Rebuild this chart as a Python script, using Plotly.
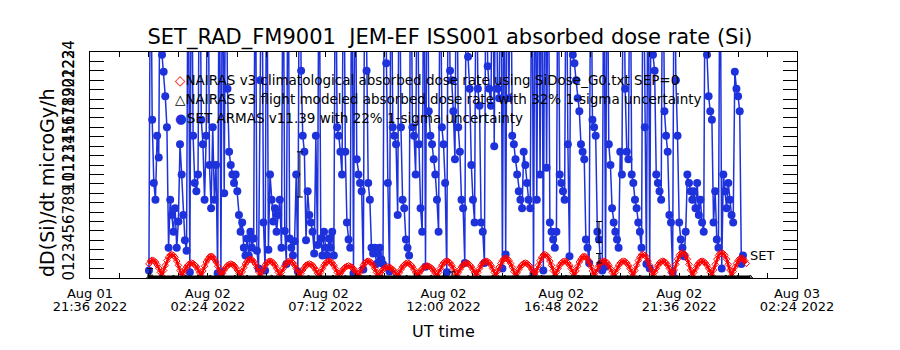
import plotly.graph_objects as go
import pandas as pd

# ---------------- data ----------------
x_range = ["2022-08-01 21:36", "2022-08-03 02:24"]
tick_start = "2022-08-01 21:36"

series_start = "2022-08-02 00:00"
step_minutes = 4

# SET ARMAS v11.39 absorbed dose rate (microGy/h); values > 24 are off scale
set_dose = [
    0.8, 40, 16.8, 10.1, 8.3, 15.1, 12.8, 40, 23.7, 21.9,
    19.3, 16.0, 3.2, 8.3, 6.7, 4.9, 7.4, 3.2, 6.0, 14.2,
    11.0, 6.7, 4.0, 2.9, 40, 0.6, 40, 15.1, 10.1, 9.2,
    11.0, 40, 16.8, 14.2, 8.3, 15.1, 40, 12.0, 7.4, 16.0,
    8.3, 12.0, 0.5, 40, 0.6, 40, 9.0, 40, 20.1, 13.4,
    12.0, 11.0, 10.1, 11.0, 9.2, 6.7, 4.9, 5.9, 3.2, 2.4,
    4.2, 2.4, 4.9, 3.2, 4.2, 40, 2.9, 1.0, 21.0, 40,
    5.9, 0.8, 40, 3.0, 11.0, 8.3, 6.0, 7.4, 4.9, 6.7,
    8.3, 3.2, 40, 5.0, 1.5, 40, 4.2, 3.2, 2.4, 3.9,
    11.0, 0.7, 40, 22.0, 15.1, 13.4, 4.0, 9.2, 6.7, 5.9,
    4.9, 2.6, 15.1, 3.5, 40, 4.2, 2.4, 4.9, 3.2, 2.4,
    4.2, 3.2, 4.9, 2.4, 40, 16.0, 15.1, 13.4, 11.0, 40,
    13.4, 5.9, 4.1, 3.2, 40, 0.5, 40, 12.6, 11.0, 10.1,
    9.2, 0.9, 40, 22.0, 10.1, 8.3, 3.2, 2.6, 3.2, 1.5,
    2.6, 3.2, 2.0, 1.5, 40, 22.8, 10.1, 0.7, 40, 16.0,
    15.1, 14.2, 6.7, 40, 16.0, 8.3, 7.4, 4.1, 3.2, 2.4,
    40, 16.0, 15.1, 11.0, 40, 14.2, 7.4, 4.9, 40, 1.2,
    40, 17.7, 15.1, 14.2, 12.6, 11.0, 8.3, 4.9, 40, 16.0,
    14.2, 10.1, 0.6, 40, 22.0, 21.0, 17.7, 12.6, 40, 16.0,
    13.4, 8.3, 7.4, 1.6, 40, 23.5, 20.1, 12.0, 8.3, 5.9,
    40, 20.1, 18.3, 5.9, 4.9, 1.6, 40, 22.5, 20.1, 18.3,
    40, 14.0, 40, 20.1, 19.1, 40, 1.0, 40, 2.5, 40,
    19.1, 40, 15.1, 14.2, 12.6, 11.0, 9.2, 8.3, 7.4, 13.4,
    12.0, 10.1, 8.3, 7.4, 40, 0.5, 40, 8.3, 40, 11.0,
    40, 0.8, 40, 11.7, 40, 5.9, 4.9, 4.1, 3.2, 4.9,
    40, 11.0, 10.1, 9.2, 8.3, 40, 14.2, 2.3, 40, 23.7,
    22.8, 21.0, 19.1, 17.7, 14.2, 13.4, 12.6, 4.1, 3.2, 1.6,
    40, 16.8, 16.0, 15.1, 4.9, 4.1, 1.5, 0.8, 40, 1.2,
    40, 14.2, 12.0, 7.4, 5.9, 4.9, 4.1, 3.2, 13.4, 11.0,
    40, 20.1, 13.4, 12.6, 40, 11.0, 10.1, 8.3, 7.4, 5.9,
    4.9, 3.2, 40, 16.0, 1.5, 40, 1.0, 40, 23.7, 22.0,
    11.0, 10.1, 9.2, 8.3, 40, 17.7, 15.1, 13.4, 6.7, 5.9,
    0.6, 40, 21.0, 15.1, 5.9, 4.1, 3.2, 2.3, 4.9, 11.0,
    10.1, 9.2, 8.3, 9.2, 7.4, 10.1, 6.7, 8.3, 5.9, 4.9,
    40, 23.7, 19.3, 17.7, 16.8, 5.9, 9.2, 4.1, 3.2, 40,
    1.0, 11.0, 9.2, 7.4, 10.1, 8.3, 6.7, 5.9, 21.9, 20.1,
    19.3, 17.7, 1.5, 2.4,
]

# NAIRAS v3 climatological absorbed dose rate (same 4-minute grid)
nairas_clim = [
    1.5, 1.8, 1.9, 1.85, 1.7, 1.4, 1.05, 0.6,
    0.2, 0.8, 1.35, 1.85, 2.2, 2.45, 2.5, 2.4, 2.2, 1.8, 1.35, 0.8,
    0.25, 0.55, 0.9, 1.2, 1.4, 1.55, 1.6, 1.55, 1.4, 1.2, 0.9, 0.55,
    0.2, 0.75, 1.25, 1.7, 2.0, 2.25, 2.3, 2.25, 2.0, 1.7, 1.25, 0.75,
    0.25, 0.5, 0.85, 1.1, 1.35, 1.45, 1.5, 1.45, 1.35, 1.1, 0.85, 0.5,
    0.2, 0.65, 1.1, 1.5, 1.75, 1.95, 2.0, 1.95, 1.75, 1.5, 1.1, 0.65,
    0.2, 0.6, 1.0, 1.35, 1.6, 1.75, 1.8, 1.75, 1.6, 1.35, 1.0, 0.6,
    0.25, 0.6, 1.0, 1.35, 1.6, 1.75, 1.8, 1.75, 1.6, 1.35, 1.0, 0.6,
    0.2, 0.5, 0.85, 1.1, 1.35, 1.45, 1.5, 1.45, 1.35, 1.1, 0.85, 0.5,
    0.2, 0.6, 1.0, 1.35, 1.6, 1.75, 1.8, 1.75, 1.6, 1.35, 1.0, 0.6,
    0.25, 0.5, 0.75, 1.0, 1.15, 1.25, 1.3, 1.25, 1.15, 1.0, 0.75, 0.5,
    0.2, 0.6, 1.0, 1.35, 1.6, 1.75, 1.8, 1.75, 1.6, 1.35, 1.0, 0.6,
    0.2, 0.45, 0.7, 0.9, 1.05, 1.15, 1.2, 1.15, 1.05, 0.9, 0.7, 0.45,
    0.2, 0.55, 0.9, 1.2, 1.4, 1.55, 1.6, 1.55, 1.4, 1.2, 0.9, 0.55,
    0.25, 0.5, 0.75, 1.0, 1.15, 1.25, 1.3, 1.25, 1.15, 1.0, 0.75, 0.5,
    0.2, 0.6, 1.0, 1.35, 1.6, 1.75, 1.8, 1.75, 1.6, 1.35, 1.0, 0.6,
    0.2, 0.55, 0.9, 1.2, 1.4, 1.55, 1.6, 1.55, 1.4, 1.2, 0.9, 0.55,
    0.25, 0.6, 1.0, 1.35, 1.6, 1.75, 1.8, 1.75, 1.6, 1.35, 1.0, 0.6,
    0.2, 0.7, 1.15, 1.55, 1.85, 2.05, 2.1, 2.05, 1.85, 1.55, 1.15, 0.7,
    0.2, 0.55, 0.9, 1.2, 1.4, 1.55, 1.6, 1.55, 1.4, 1.2, 0.9, 0.55,
    0.25, 0.8, 1.35, 1.85, 2.2, 2.45, 2.5, 2.4, 2.2, 1.8, 1.35, 0.8,
    0.2, 0.6, 1.0, 1.35, 1.6, 1.75, 1.8, 1.75, 1.6, 1.35, 1.0, 0.6,
    0.2, 0.75, 1.25, 1.7, 2.0, 2.25, 2.3, 2.25, 2.0, 1.7, 1.25, 0.75,
    0.25, 0.6, 1.0, 1.35, 1.6, 1.75, 1.8, 1.75, 1.6, 1.35, 1.0, 0.6,
    0.2, 0.6, 1.0, 1.35, 1.6, 1.75, 1.8, 1.75, 1.6, 1.35, 1.0, 0.6,
    0.2, 0.8, 1.35, 1.85, 2.2, 2.45, 2.5, 2.4, 2.2, 1.8, 1.35, 0.8,
    0.25, 0.6, 1.0, 1.35, 1.6, 1.75, 1.8, 1.75, 1.6, 1.35, 1.0, 0.6,
    0.2, 0.85, 1.45, 2.0, 2.4, 2.6, 2.7, 2.6, 2.4, 2.0, 1.45, 0.85,
    0.2, 0.6, 1.0, 1.35, 1.6, 1.75, 1.8, 1.75, 1.6, 1.35, 1.0, 0.6,
    0.25, 0.85, 1.45, 2.0, 2.4, 2.6, 2.7, 2.6, 2.4, 2.0, 1.45, 0.85,
    0.2, 0.7, 1.15, 1.55, 1.85, 2.05, 2.1, 2.05, 1.85, 1.55,
]

# NAIRAS v3 flight modeled absorbed dose rate (30-minute grid)
flight_step_minutes = 30
nairas_flight = [
    0.10, 0.09, 0.11, 0.10, 0.12, 0.10, 0.09, 0.10, 0.11, 0.10,
    0.12, 0.11, 0.10, 0.09, 0.10, 0.11, 0.10, 0.12, 0.10, 0.09,
    0.10, 0.11, 0.10, 0.12, 0.11, 0.10, 0.09, 0.10, 0.11, 0.10,
    0.12, 0.10, 0.09, 0.10, 0.11, 0.10, 0.12, 0.11, 0.10, 0.09,
    0.10, 0.11, 0.10, 0.12, 0.10, 0.09, 0.10, 0.11, 0.10, 0.10,
]

# uncertainty bars drawn in the reference
err_times = ["2022-08-02 00:03", "2022-08-02 06:09", "2022-08-02 12:21",
             "2022-08-02 18:20", "2022-08-02 18:20"]
err_values = [0.65, 11.0, 0.35, 4.9, 2.1]
err_sizes = [0.35, 2.4, 0.3, 1.1, 0.5]

title_text = "SET_RAD_FM9001  JEM-EF ISS001 absorbed dose rate (Si)"
legend_labels = [
    "NAIRAS v3 climatological absorbed dose rate using SiDose_G0.txt SEP=0",
    "NAIRAS v3 flight modeled absorbed dose rate with 32% 1-sigma uncertainty",
    "SET ARMAS v11.39 with 22% 1-sigma uncertainty",
]

# ---------------- build ----------------
t0 = pd.Timestamp(series_start)
set_times = [t0 + pd.Timedelta(minutes=step_minutes * i) for i in range(len(set_dose))]
clim_times = [t0 + pd.Timedelta(minutes=step_minutes * i) for i in range(len(nairas_clim))]
flight_times = [t0 + pd.Timedelta(minutes=flight_step_minutes * i) for i in range(len(nairas_flight))]

FONT = "DejaVu Sans"
BLUE = "#1e32dc"
RED = "#ff0000"

fig = go.Figure()
fig.add_trace(go.Scatter(
    x=set_times, y=set_dose, mode="lines+markers",
    line=dict(color=BLUE, width=1.5),
    marker=dict(color=BLUE, size=8, symbol="circle"),
    showlegend=False, hoverinfo="skip"))
fig.add_trace(go.Scatter(
    x=clim_times, y=nairas_clim, mode="lines+markers",
    line=dict(color=RED, width=2.5),
    marker=dict(color=RED, size=5, symbol="diamond-open", line=dict(width=1, color=RED)),
    showlegend=False, hoverinfo="skip"))
fig.add_trace(go.Scatter(
    x=flight_times, y=nairas_flight, mode="lines+markers",
    line=dict(color="black", width=3),
    marker=dict(color="black", size=4, symbol="triangle-up-open"),
    showlegend=False, hoverinfo="skip"))
fig.add_trace(go.Scatter(
    x=err_times, y=err_values, mode="markers",
    marker=dict(color="black", size=1),
    error_y=dict(type="data", array=err_sizes, visible=True,
                 color="black", thickness=1, width=3),
    showlegend=False, hoverinfo="skip"))
# invisible carrier for second tick-label row
fig.add_trace(go.Scatter(
    x=x_range, y=[None, None], xaxis="x2", mode="markers",
    showlegend=False, hoverinfo="skip"))

dtick_major = 4.8 * 3600 * 1000
dtick_minor = 1.2 * 3600 * 1000

fig.update_layout(
    width=900, height=350,
    margin=dict(l=90, r=103, t=52, b=72),
    paper_bgcolor="white", plot_bgcolor="white",
    font=dict(family=FONT, color="black"),
    title=dict(text=title_text, x=0.5, xanchor="center", y=0.894, yanchor="middle",
               font=dict(size=21, family=FONT, color="black")),
    xaxis=dict(
        type="date", range=x_range,
        tickmode="linear", tick0=tick_start, dtick=dtick_major,
        tickformat="%b %d", ticks="inside", ticklen=5, tickcolor="black",
        minor=dict(tickmode="linear", tick0=tick_start, dtick=dtick_minor,
                   ticks="inside", ticklen=5, tickcolor="black"),
        showline=True, linecolor="black", linewidth=1, mirror="ticks",
        showgrid=False, zeroline=False,
        tickfont=dict(size=13, family=FONT, color="black"),
        ticklabelstandoff=3,
    ),
    xaxis2=dict(
        type="date", range=x_range, overlaying="x", side="bottom", anchor="y",
        tickmode="linear", tick0=tick_start, dtick=dtick_major,
        tickformat="%H:%M %Y", ticks="", showline=False, showgrid=False, zeroline=False,
        tickfont=dict(size=13, family=FONT, color="black"),
        ticklabelstandoff=19,
    ),
    yaxis=dict(
        range=[0, 24], tickmode="linear", tick0=0, dtick=1,
        ticks="inside", ticklen=14, tickcolor="black",
        showline=True, linecolor="black", linewidth=1, mirror="ticks",
        showgrid=False, zeroline=False, tickangle=-90,
        tickfont=dict(size=15, family=FONT, color="black"),
        ticklabelstandoff=9,
    ),
    showlegend=False,
)

annotations = []
legend_colors = [RED, "black", BLUE]
legend_glyphs = ["\u25c7", "\u25b3", "\u25cf"]
legend_y = [0.876, 0.792, 0.708]
for lab, col, gl, yy in zip(legend_labels, legend_colors, legend_glyphs, legend_y):
    annotations.append(dict(
        text=f'<span style="color:{col}">{gl}</span>{lab}',
        xref="paper", yref="paper", x=0.118, y=yy, xanchor="left", yanchor="middle",
        showarrow=False, font=dict(size=13.5, family=FONT, color="black")))
annotations.append(dict(
    text="SET", xref="x", yref="y", x=set_times[-1], y=set_dose[-1],
    xanchor="left", yanchor="middle", xshift=5, showarrow=False,
    font=dict(size=13, family=FONT, color="black")))
annotations.append(dict(
    text="UT time", xref="paper", yref="paper", x=0.5, y=-0.235,
    xanchor="center", yanchor="middle", showarrow=False,
    font=dict(size=16, family=FONT, color="black")))
annotations.append(dict(
    text="dD(Si)/dt microGy/h", xref="paper", yref="paper", x=-0.061, y=0.42,
    xanchor="center", yanchor="middle", textangle=-90, showarrow=False,
    font=dict(size=19, family=FONT, color="black")))
fig.update_layout(annotations=annotations)

fig.write_html("out.html")
